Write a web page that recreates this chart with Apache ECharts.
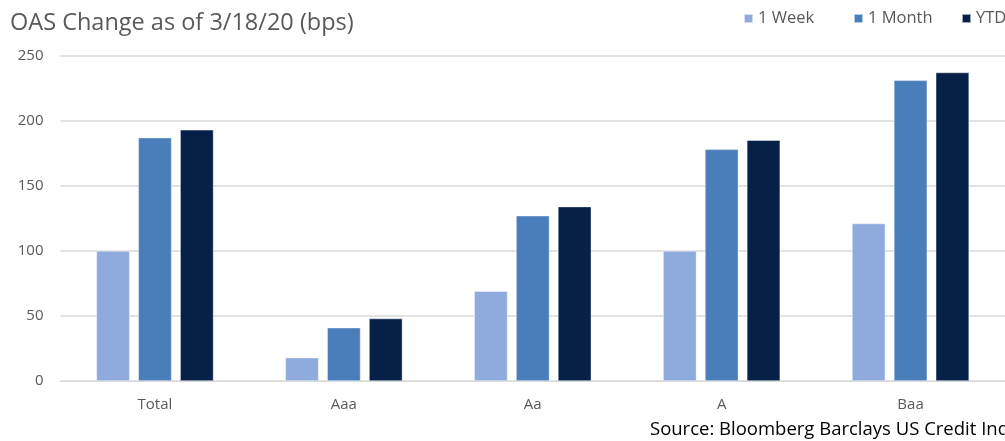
<!DOCTYPE html>
<html><head><meta charset="utf-8">
<script src="https://cdn.jsdelivr.net/npm/echarts@6/dist/echarts.min.js"></script>
<style>html,body{margin:0;padding:0;background:#fff}#c{width:1005px;height:441px}</style>
</head><body><div id="c"></div>
<script>
const categories = ['Total', 'Aaa', 'Aa', 'A', 'Baa'];
const week = [100, 18, 69, 100, 121];
const month = [187, 41, 127, 178, 231];
const ytd = [193, 48, 134, 185, 237];
const seriesNames = ['1 Week', '1 Month', 'YTD'];
const colors = ['#8FAADC', '#4A7EBB', '#062048'];
const FONT = '"Open Sans", "Liberation Sans", sans-serif';
const chart = echarts.init(document.getElementById('c'), null, {renderer: 'canvas'});
const mk = (name, data, i) => ({
  name, type: 'bar', data, barWidth: 33.5, barGap: '25%',
  itemStyle: {color: colors[i], borderColor: 'rgba(255,255,255,0.6)', borderWidth: 0.7},
  animation: false
});
const legendLefts = [743, 853, 961];
chart.setOption({
  animation: false,
  color: colors,
  title: {text: 'OAS Change as of 3/18/20 (bps)', left: 5, top: 6,
    textStyle: {fontFamily: FONT, fontSize: 23.5, fontWeight: 'normal', color: '#595959'}},
  legend: seriesNames.map((n, i) => ({data: [n], left: legendLefts[i], top: 10, padding: 0,
    icon: 'rect', itemWidth: 9, itemHeight: 9, itemGap: 0,
    textStyle: {fontFamily: FONT, fontSize: 16.5, color: '#595959'}})),
  grid: {left: 60.5, width: 950, top: 55.5, bottom: 60, containLabel: false},
  xAxis: {type: 'category', data: categories,
    axisLine: {lineStyle: {color: '#D9D9D9', width: 1}}, axisTick: {show: false},
    axisLabel: {fontFamily: FONT, fontSize: 15, color: '#595959', margin: 16}},
  yAxis: {type: 'value', min: 0, max: 250, interval: 50,
    axisLine: {show: false}, axisTick: {show: false},
    splitLine: {lineStyle: {color: '#D9D9D9', width: 1.5}},
    axisLabel: {fontFamily: FONT, fontSize: 15, color: '#595959', margin: 17}},
  graphic: [{type: 'text', left: 650, top: 420,
    style: {text: 'Source: Bloomberg Barclays US Credit Index', fontFamily: FONT, fontSize: 18.5, fill: '#000'}}],
  series: [mk(seriesNames[0], week, 0), mk(seriesNames[1], month, 1), mk(seriesNames[2], ytd, 2)]
});
</script></body></html>
